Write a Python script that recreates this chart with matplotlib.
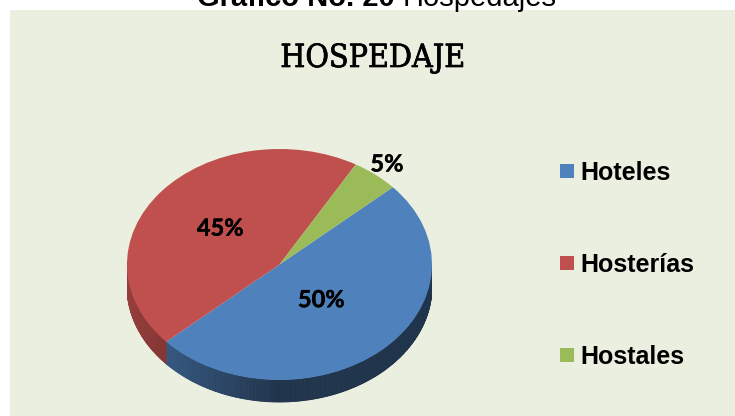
import numpy as np
import matplotlib
matplotlib.use('Agg')
import matplotlib.pyplot as plt
from matplotlib.patches import Rectangle, Polygon
from matplotlib import font_manager as fm
import matplotlib.patheffects as pe

# datos
categorias = ['Hoteles', 'Hosterías', 'Hostales']
porcentajes = [50, 45, 5]
etiquetas = ['50%', '45%', '5%']
colores = ['#4F81BD', '#C0504D', '#9BBB59']

W, H = 735, 416
fig = plt.figure(figsize=(W / 100, H / 100), dpi=100)
fig.patch.set_facecolor('white')

# panel de fondo
fig.patches.append(Rectangle((10 / W, 0), 1 - 10 / W, (H - 10) / H,
                             transform=fig.transFigure, facecolor='#EBEFDF',
                             edgecolor='none', zorder=-1))

# encabezado (cortado arriba como en el original)
t1 = fig.text(197 / W, 1 - 6 / H, 'Gráfico No. 20 ', fontsize=21, fontweight='bold',
              family='Liberation Sans', va='baseline', ha='left')
fig.canvas.draw()
bb = t1.get_window_extent()
fig.text(bb.x1 / W, 1 - 6 / H, 'Hospedajes', fontsize=21,
         family='Liberation Sans', va='baseline', ha='left')

# titulo
fp_tit = fm.FontProperties(family='DejaVu Serif', stretch='condensed', size=23)
fig.text(373 / W, 1 - 67 / H, 'HOSPEDAJE', fontproperties=fp_tit,
         ha='center', va='baseline',
         path_effects=[pe.withStroke(linewidth=0.5, foreground='black')])

# pastel 3D
rx, ry, prof = 152.5, 115.5, 22
cx, cy = 279.5, 264.5
d = prof / ry
ymin = -1 - d - 0.06
ax = fig.add_axes([(cx - rx) / W, (H - (cy - ry) - (1 - ymin) * ry) / H,
                   2 * rx / W, (1 - ymin) * ry / H])
ax.set_facecolor('none')

inicio = 42
wedges, _ = ax.pie(porcentajes, colors=colores, startangle=inicio, counterclock=False,
                   radius=1, wedgeprops=dict(linewidth=0, zorder=3))
ax.set_aspect('auto')
ax.set_xlim(-1, 1)
ax.set_ylim(ymin, 1)
ax.axis('off')


def sombra(t):
    return 0.40 + 0.38 * max(0.0, -np.cos(np.radians(t)))


# paredes laterales
for w, c in zip(wedges, colores):
    a, b = sorted([w.theta1, w.theta2])
    base = np.array(matplotlib.colors.to_rgb(c))
    for k in range(-1, 2):
        lo = max(a, 180 + 360 * k)
        hi = min(b, 360 + 360 * k)
        if hi <= lo:
            continue
        ts = np.linspace(lo, hi, int((hi - lo) * 2) + 2)
        for t0, t1_ in zip(ts[:-1], ts[1:]):
            tt = np.radians(np.linspace(t0, t1_, 3))
            xs = np.cos(tt)
            ys = np.sin(tt)
            pts = np.concatenate([np.c_[xs, ys], np.c_[xs[::-1], ys[::-1] - d]])
            col = np.clip(base * sombra((t0 + t1_) / 2), 0, 1)
            ax.add_patch(Polygon(pts, closed=True, facecolor=col, edgecolor=col,
                                 linewidth=0.6, zorder=2))

# etiquetas de porcentaje
dist = [0.41, 0.5, 1.12]
for w, txt, r in zip(wedges, etiquetas, dist):
    m = np.radians((w.theta1 + w.theta2) / 2)
    ax.text(r * np.cos(m), r * np.sin(m), txt, ha='center', va='center',
            fontsize=17, fontweight='bold', family='Lato', zorder=5,
            path_effects=[pe.withStroke(linewidth=0.3, foreground='black')])

# leyenda
ley_y = [171, 263, 355]
for nom, c, y in zip(categorias, colores, ley_y):
    fig.patches.append(Rectangle((560 / W, 1 - (y + 7) / H), 14 / W, 14 / H,
                                 transform=fig.transFigure, facecolor=c,
                                 edgecolor='none'))
    fig.text(580 / W, 1 - y / H, nom, fontsize=18, fontweight='bold',
             family='Liberation Sans', va='center_baseline', ha='left')

fig.savefig('out.png', dpi=100)
